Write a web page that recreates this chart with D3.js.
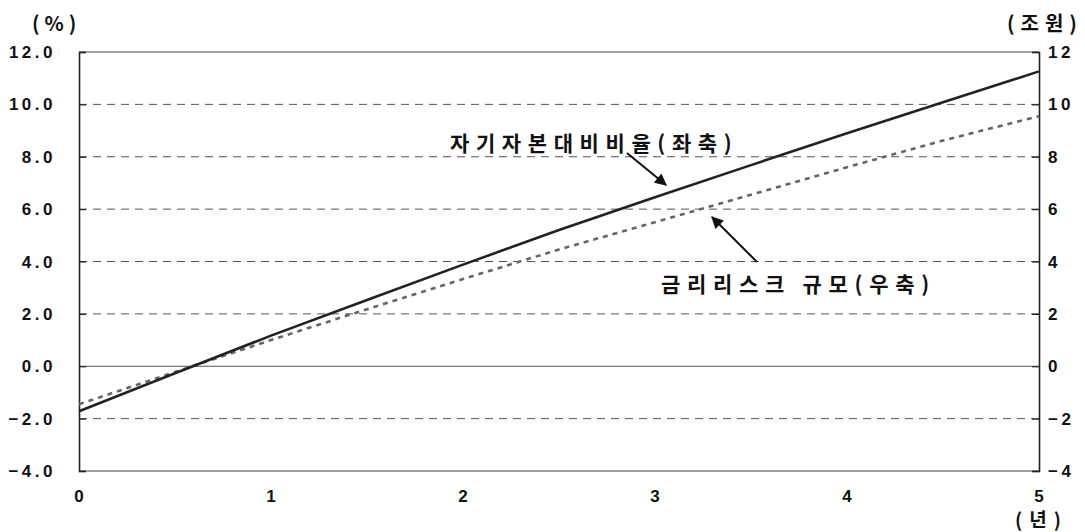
<!DOCTYPE html>
<html>
<head>
<meta charset="utf-8">
<script src="https://cdn.jsdelivr.net/npm/d3@7"></script>
<style>
  html, body { margin: 0; padding: 0; background: #fff; }
  svg text { font-family: "Liberation Sans", "Noto Sans CJK KR", sans-serif; font-weight: bold; fill: #111; }
  .kr { font-family: "Noto Sans CJK KR", sans-serif; }
</style>
</head>
<body>
<svg id="chart" width="1085" height="532"></svg>
<script>
// Years elapsed (half-year steps)
const years = [0, 0.5, 1, 1.5, 2, 2.5, 3, 3.5, 4, 4.5, 5];
// 자기자본대비비율 (%, left axis)
const capitalRatio = [-1.72, -0.27, 1.17, 2.53, 3.88, 5.2, 6.45, 7.68, 8.9, 10.08, 11.26];
// 금리리스크 규모 (조원, right axis)
const riskSize = [-1.45, -0.22, 1.0, 2.18, 3.33, 4.46, 5.5, 6.55, 7.6, 8.62, 9.55];

const leftTicks = [-4, -2, 0, 2, 4, 6, 8, 10, 12];
const rightTicks = [-4, -2, 0, 2, 4, 6, 8, 10, 12];
const xTicks = [0, 1, 2, 3, 4, 5];

const margin = { left: 79, right: 46, top: 52, bottom: 61 };
const W = 1085, H = 532;
const svg = d3.select("#chart");

const x = d3.scaleLinear().domain([0, 5]).range([margin.left, W - margin.right]);
const yL = d3.scaleLinear().domain([-4, 12]).range([H - margin.bottom, margin.top]);
const yR = d3.scaleLinear().domain([-4, 12]).range([H - margin.bottom, margin.top]);

// horizontal guide lines
const grid = svg.append("g");
leftTicks.forEach(v => {
  const y = yL(v);
  const line = grid.append("line")
    .attr("x1", x(0)).attr("x2", x(5))
    .attr("y1", y).attr("y2", y);
  if (v === 0) {
    line.attr("stroke", "#555").attr("stroke-width", 1);
  } else if (v === -4 || v === 12) {
    line.attr("stroke", "#444").attr("stroke-width", 1.2);
  } else {
    line.attr("stroke", "#555").attr("stroke-width", 1).attr("stroke-dasharray", "8,6");
  }
});

// left axis
const axL = svg.append("g").attr("transform", `translate(${x(0)},0)`)
  .call(d3.axisLeft(yL).tickValues(leftTicks).tickSize(-7).tickPadding(0).tickFormat(""));
axL.select(".domain").attr("stroke", "#222").attr("stroke-width", 1.6);
axL.selectAll(".tick line").attr("stroke", "#222").attr("stroke-width", 1.2);

// right axis
const axR = svg.append("g").attr("transform", `translate(${x(5)},0)`)
  .call(d3.axisRight(yR).tickValues(rightTicks).tickSize(-7).tickFormat(""));
axR.select(".domain").attr("stroke", "#222").attr("stroke-width", 1.6);
axR.selectAll(".tick line").attr("stroke", "#222").attr("stroke-width", 1.2);

// tick labels
svg.append("g").selectAll("text").data(leftTicks).join("text")
  .attr("x", 56).attr("y", d => yL(d) + 6)
  .attr("text-anchor", "end")
  .attr("font-size", 17).attr("letter-spacing", "3.5px")
  .text(d => d.toFixed(1).replace("-", "\u2212"));

svg.append("g").selectAll("text").data(rightTicks).join("text")
  .attr("x", 1048).attr("y", d => yR(d) + 6)
  .attr("font-size", 17).attr("letter-spacing", "3.5px")
  .text(d => String(d).replace("-", "\u2212"));

svg.append("g").selectAll("text").data(xTicks).join("text")
  .attr("x", d => x(d)).attr("y", 502)
  .attr("text-anchor", "middle")
  .attr("font-size", 17)
  .text(d => d);

// unit labels
svg.append("text").attr("class", "kr").attr("x", 32).attr("y", 31)
  .attr("font-size", 20).attr("letter-spacing", "5px").text("(%)");
svg.append("text").attr("class", "kr").attr("x", 1007).attr("y", 31)
  .attr("font-size", 20).attr("letter-spacing", "6px").text("(조원)");
svg.append("text").attr("class", "kr").attr("x", 1015).attr("y", 527)
  .attr("font-size", 19).attr("letter-spacing", "7px").text("(년)");

// series
const lineL = d3.line().x((d, i) => x(years[i])).y(d => yL(d));
const lineR = d3.line().x((d, i) => x(years[i])).y(d => yR(d));

svg.append("path").datum(riskSize).attr("d", lineR)
  .attr("fill", "none").attr("stroke", "#666").attr("stroke-width", 2.6)
  .attr("stroke-dasharray", "5,5");

svg.append("path").datum(capitalRatio).attr("d", lineL)
  .attr("fill", "none").attr("stroke", "#222").attr("stroke-width", 2.6);

// annotation arrows
const defs = svg.append("defs");
defs.append("marker").attr("id", "arrow")
  .attr("viewBox", "0 0 10 10").attr("refX", 9).attr("refY", 5)
  .attr("markerWidth", 14).attr("markerHeight", 12).attr("orient", "auto")
  .attr("markerUnits", "userSpaceOnUse")
  .append("path").attr("d", "M0,0 L10,5 L0,10 z").attr("fill", "#111");

svg.append("line").attr("x1", 627).attr("y1", 153).attr("x2", 666).attr("y2", 185)
  .attr("stroke", "#111").attr("stroke-width", 2).attr("marker-end", "url(#arrow)");
svg.append("line").attr("x1", 757).attr("y1", 262).attr("x2", 712).attr("y2", 217)
  .attr("stroke", "#111").attr("stroke-width", 2).attr("marker-end", "url(#arrow)");

svg.append("text").attr("class", "kr").attr("x", 450).attr("y", 151)
  .attr("font-size", 21).attr("letter-spacing", "6.6px").text("자기자본대비비율(좌축)");
svg.append("text").attr("class", "kr").attr("x", 661).attr("y", 292)
  .attr("font-size", 21).attr("letter-spacing", "6.7px").text("금리리스크 규모(우축)");
</script>
</body>
</html>
